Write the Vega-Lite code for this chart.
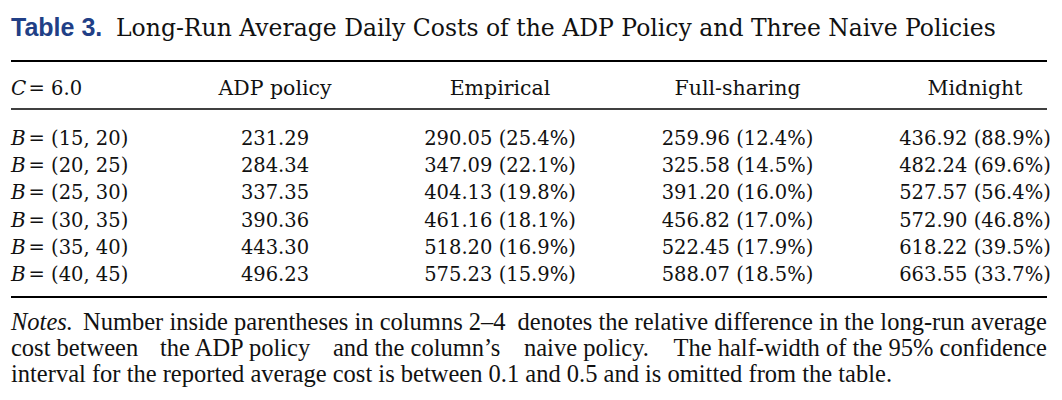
{
  "$schema": "https://vega.github.io/schema/vega-lite/v6.json",
  "width": 1062,
  "height": 400,
  "autosize": "none",
  "padding": 0,
  "background": "white",
  "view": {"stroke": null},
  "config": {"text": {"baseline": "alphabetic", "color": "#111111"}},
  "datasets": {
    "title": [{"line": 0, "col": 0, "label": "Table 3.", "caption": "Long-Run Average Daily Costs of the ADP Policy and Three Naive Policies"}],
    "rules": [
      {"line": 1, "col": 0, "end": 5, "weight": "heavy"},
      {"line": 3, "col": 0, "end": 5, "weight": "light"},
      {"line": 10, "col": 0, "end": 5, "weight": "heavy"}
    ],
    "stub": [
      {"line": 2, "col": 0, "sym": "C", "rest": "= 6.0"},
      {"line": 4, "col": 0, "sym": "B", "rest": "= (15, 20)"},
      {"line": 5, "col": 0, "sym": "B", "rest": "= (20, 25)"},
      {"line": 6, "col": 0, "sym": "B", "rest": "= (25, 30)"},
      {"line": 7, "col": 0, "sym": "B", "rest": "= (30, 35)"},
      {"line": 8, "col": 0, "sym": "B", "rest": "= (35, 40)"},
      {"line": 9, "col": 0, "sym": "B", "rest": "= (40, 45)"}
    ],
    "cells": [
      {"line": 2, "col": 1, "text": "ADP policy"},
      {"line": 2, "col": 2, "text": "Empirical"},
      {"line": 2, "col": 3, "text": "Full-sharing"},
      {"line": 2, "col": 4, "text": "Midnight"},
      {"line": 4, "col": 1, "text": "231.29"},
      {"line": 4, "col": 2, "text": "290.05 (25.4%)"},
      {"line": 4, "col": 3, "text": "259.96 (12.4%)"},
      {"line": 4, "col": 4, "text": "436.92 (88.9%)"},
      {"line": 5, "col": 1, "text": "284.34"},
      {"line": 5, "col": 2, "text": "347.09 (22.1%)"},
      {"line": 5, "col": 3, "text": "325.58 (14.5%)"},
      {"line": 5, "col": 4, "text": "482.24 (69.6%)"},
      {"line": 6, "col": 1, "text": "337.35"},
      {"line": 6, "col": 2, "text": "404.13 (19.8%)"},
      {"line": 6, "col": 3, "text": "391.20 (16.0%)"},
      {"line": 6, "col": 4, "text": "527.57 (56.4%)"},
      {"line": 7, "col": 1, "text": "390.36"},
      {"line": 7, "col": 2, "text": "461.16 (18.1%)"},
      {"line": 7, "col": 3, "text": "456.82 (17.0%)"},
      {"line": 7, "col": 4, "text": "572.90 (46.8%)"},
      {"line": 8, "col": 1, "text": "443.30"},
      {"line": 8, "col": 2, "text": "518.20 (16.9%)"},
      {"line": 8, "col": 3, "text": "522.45 (17.9%)"},
      {"line": 8, "col": 4, "text": "618.22 (39.5%)"},
      {"line": 9, "col": 1, "text": "496.23"},
      {"line": 9, "col": 2, "text": "575.23 (15.9%)"},
      {"line": 9, "col": 3, "text": "588.07 (18.5%)"},
      {"line": 9, "col": 4, "text": "663.55 (33.7%)"}
    ],
    "notesLead": [{"line": 11, "col": 0, "lead": "Notes.", "text": "Number inside parentheses in columns 2–4"}],
    "notesLeft": [
      {"line": 12, "col": 0, "text": "cost between"},
      {"line": 13, "col": 0, "text": "interval for the reported average cost is between 0.1 and 0.5 and is omitted from the table."}
    ],
    "notesMid": [
      {"line": 12, "col": 0, "part": "b", "text": "the ADP policy"},
      {"line": 12, "col": 0, "part": "c", "text": "and the column’s"},
      {"line": 12, "col": 0, "part": "d", "text": "naive policy."}
    ],
    "notesRight": [
      {"line": 11, "col": 5, "text": "denotes the relative difference in the long-run average"},
      {"line": 12, "col": 5, "text": "The half-width of the 95% confidence"}
    ]
  },
  "encoding": {
    "x": {"field": "col", "type": "quantitative", "axis": null,
      "scale": {"domain": [0, 1, 2, 3, 4, 5], "range": [11, 275, 500, 737.5, 975, 1047], "nice": false, "zero": false}},
    "y": {"field": "line", "type": "quantitative", "axis": null,
      "scale": {"domain": [0, 1, 2, 3, 4, 5, 6, 7, 8, 9, 10, 11, 12, 13], "range": [36, 61, 95, 109, 145, 172.2, 199.4, 226.6, 253.8, 281, 297, 330, 356, 382], "nice": false, "zero": false}}
  },
  "layer": [
    {"data": {"name": "title"}, "mark": {"type": "text", "align": "left", "font": "Liberation Sans", "fontWeight": "bold", "fontSize": 25, "color": "#213f86"},
      "encoding": {"text": {"field": "label"}}},
    {"data": {"name": "title"}, "mark": {"type": "text", "align": "left", "dx": 105, "font": "DejaVu Serif", "fontSize": 23.5},
      "encoding": {"text": {"field": "caption"}}},
    {"data": {"name": "rules"}, "transform": [{"filter": "datum.weight == 'heavy'"}], "mark": {"type": "rule", "strokeWidth": 2.2, "color": "#000000"},
      "encoding": {"x2": {"field": "end"}}},
    {"data": {"name": "rules"}, "transform": [{"filter": "datum.weight == 'light'"}], "mark": {"type": "rule", "strokeWidth": 1.6, "color": "#000000"},
      "encoding": {"x2": {"field": "end"}}},
    {"data": {"name": "stub"}, "mark": {"type": "text", "align": "left", "font": "DejaVu Serif", "fontStyle": "italic", "fontSize": 20},
      "encoding": {"text": {"field": "sym"}}},
    {"data": {"name": "stub"}, "mark": {"type": "text", "align": "left", "dx": 17.5, "font": "DejaVu Serif", "fontSize": 19.5},
      "encoding": {"text": {"field": "rest"}}},
    {"data": {"name": "cells"}, "transform": [{"filter": "datum.line == 2"}], "mark": {"type": "text", "align": "center", "font": "DejaVu Serif", "fontSize": 20.5},
      "encoding": {"text": {"field": "text"}}},
    {"data": {"name": "cells"}, "transform": [{"filter": "datum.line != 2"}], "mark": {"type": "text", "align": "center", "font": "DejaVu Serif", "fontSize": 19.5},
      "encoding": {"text": {"field": "text"}}},
    {"data": {"name": "notesLead"}, "mark": {"type": "text", "align": "left", "font": "Liberation Serif", "fontStyle": "italic", "fontSize": 24.5},
      "encoding": {"text": {"field": "lead"}}},
    {"data": {"name": "notesLead"}, "mark": {"type": "text", "align": "left", "dx": 72, "font": "Liberation Serif", "fontSize": 24.5},
      "encoding": {"text": {"field": "text"}}},
    {"data": {"name": "notesLeft"}, "mark": {"type": "text", "align": "left", "font": "Liberation Serif", "fontSize": 24.5},
      "encoding": {"text": {"field": "text"}}},
    {"data": {"name": "notesMid"}, "transform": [{"filter": "datum.part == 'b'"}], "mark": {"type": "text", "align": "left", "dx": 149, "font": "Liberation Serif", "fontSize": 24.5},
      "encoding": {"text": {"field": "text"}}},
    {"data": {"name": "notesMid"}, "transform": [{"filter": "datum.part == 'c'"}], "mark": {"type": "text", "align": "left", "dx": 322, "font": "Liberation Serif", "fontSize": 24.5},
      "encoding": {"text": {"field": "text"}}},
    {"data": {"name": "notesMid"}, "transform": [{"filter": "datum.part == 'd'"}], "mark": {"type": "text", "align": "left", "dx": 513, "font": "Liberation Serif", "fontSize": 24.5},
      "encoding": {"text": {"field": "text"}}},
    {"data": {"name": "notesRight"}, "mark": {"type": "text", "align": "right", "font": "Liberation Serif", "fontSize": 24.5},
      "encoding": {"text": {"field": "text"}}}
  ]
}
